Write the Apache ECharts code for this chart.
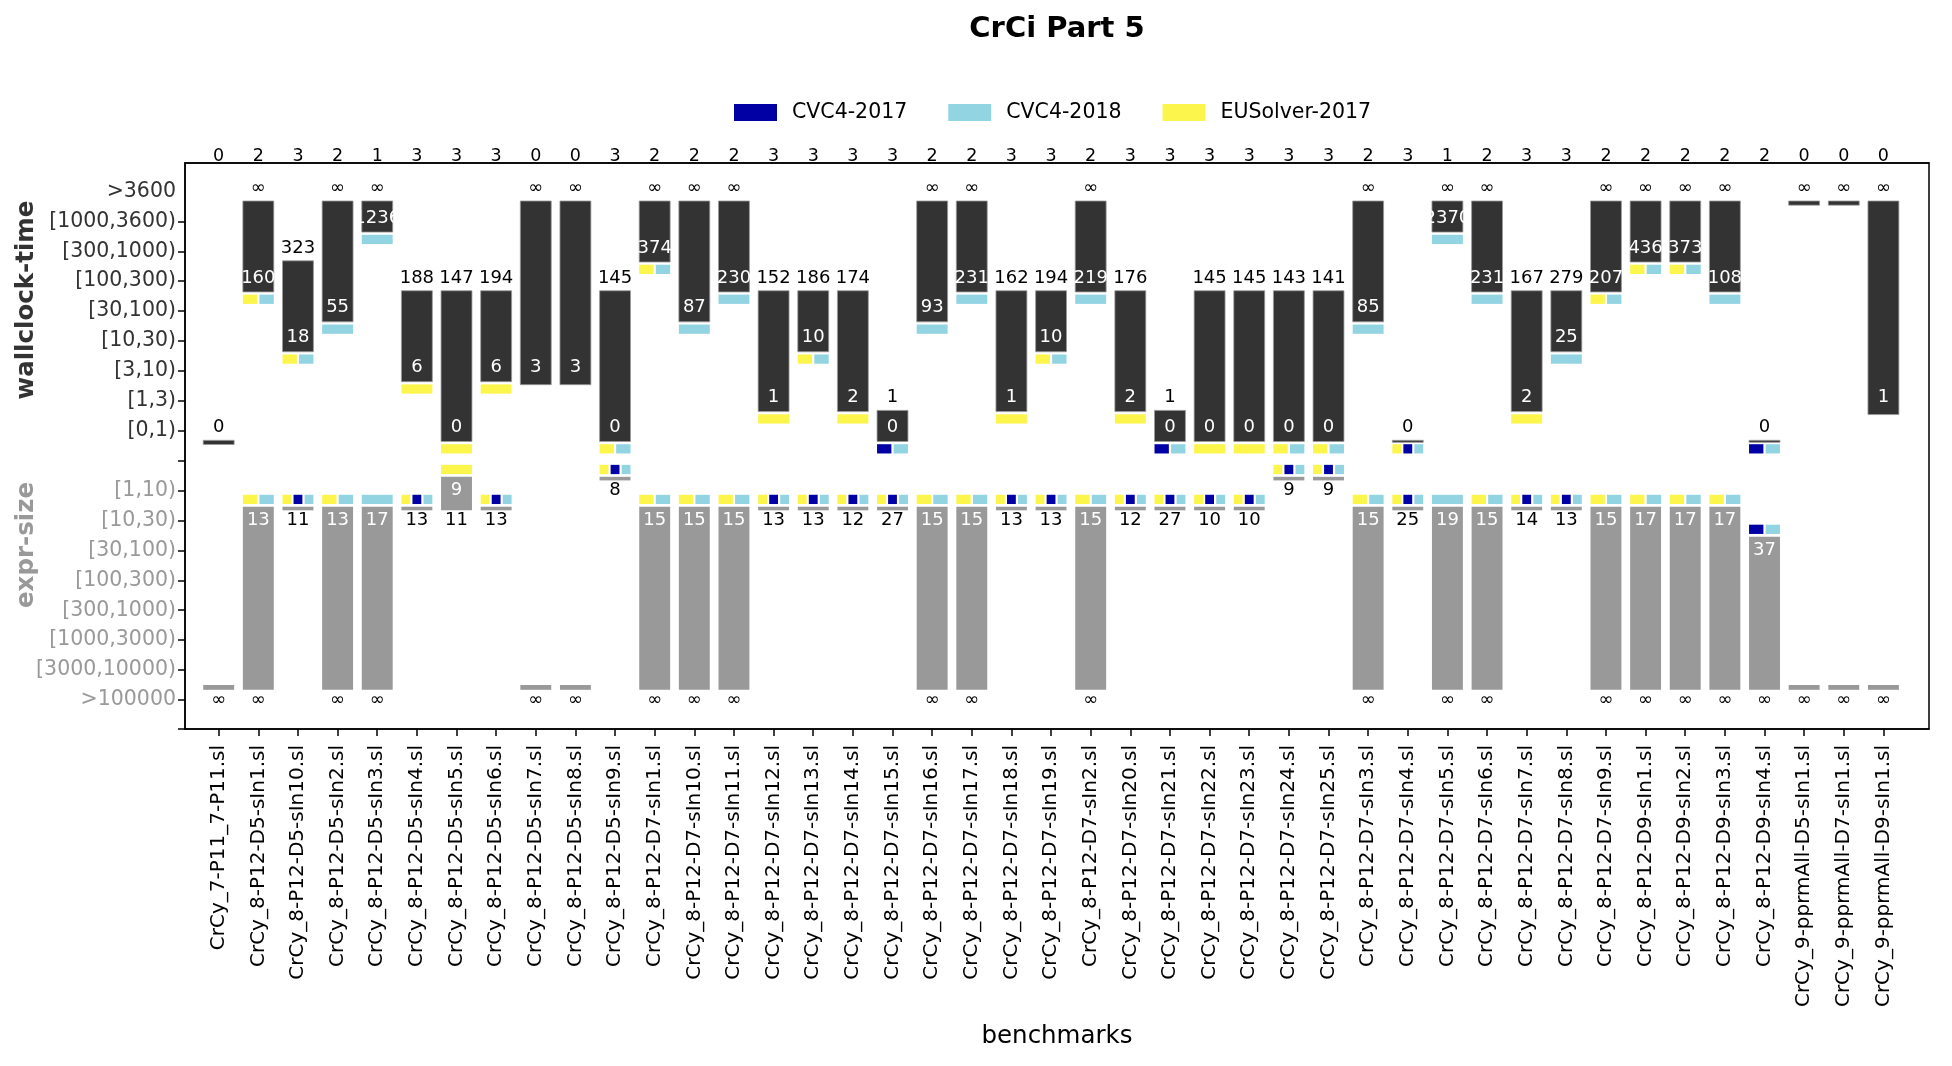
<!DOCTYPE html>
<html><head><meta charset="utf-8">
<script src="https://cdn.jsdelivr.net/npm/echarts@6/dist/echarts.min.js"></script>
<style>html,body{margin:0;padding:0;background:#fff}#c{width:1952px;height:1066px}</style>
</head><body><div id="c"></div>
<script>
const INF = Infinity;
const benchmarks = ['CrCy_7-P11_7-P11.sl','CrCy_8-P12-D5-sIn1.sl','CrCy_8-P12-D5-sIn10.sl','CrCy_8-P12-D5-sIn2.sl','CrCy_8-P12-D5-sIn3.sl','CrCy_8-P12-D5-sIn4.sl','CrCy_8-P12-D5-sIn5.sl','CrCy_8-P12-D5-sIn6.sl','CrCy_8-P12-D5-sIn7.sl','CrCy_8-P12-D5-sIn8.sl','CrCy_8-P12-D5-sIn9.sl','CrCy_8-P12-D7-sIn1.sl','CrCy_8-P12-D7-sIn10.sl','CrCy_8-P12-D7-sIn11.sl','CrCy_8-P12-D7-sIn12.sl','CrCy_8-P12-D7-sIn13.sl','CrCy_8-P12-D7-sIn14.sl','CrCy_8-P12-D7-sIn15.sl','CrCy_8-P12-D7-sIn16.sl','CrCy_8-P12-D7-sIn17.sl','CrCy_8-P12-D7-sIn18.sl','CrCy_8-P12-D7-sIn19.sl','CrCy_8-P12-D7-sIn2.sl','CrCy_8-P12-D7-sIn20.sl','CrCy_8-P12-D7-sIn21.sl','CrCy_8-P12-D7-sIn22.sl','CrCy_8-P12-D7-sIn23.sl','CrCy_8-P12-D7-sIn24.sl','CrCy_8-P12-D7-sIn25.sl','CrCy_8-P12-D7-sIn3.sl','CrCy_8-P12-D7-sIn4.sl','CrCy_8-P12-D7-sIn5.sl','CrCy_8-P12-D7-sIn6.sl','CrCy_8-P12-D7-sIn7.sl','CrCy_8-P12-D7-sIn8.sl','CrCy_8-P12-D7-sIn9.sl','CrCy_8-P12-D9-sIn1.sl','CrCy_8-P12-D9-sIn2.sl','CrCy_8-P12-D9-sIn3.sl','CrCy_8-P12-D9-sIn4.sl','CrCy_9-pprmAll-D5-sIn1.sl','CrCy_9-pprmAll-D7-sIn1.sl','CrCy_9-pprmAll-D9-sIn1.sl'];
const solvedCounts = [0,2,3,2,1,3,3,3,0,0,3,2,2,2,3,3,3,3,2,2,3,3,2,3,3,3,3,3,3,2,3,1,2,3,3,2,2,2,2,2,0,0,0];
const timeMax = [0,INF,323,INF,INF,188,147,194,INF,INF,145,INF,INF,INF,152,186,174,1,INF,INF,162,194,INF,176,1,145,145,143,141,INF,0,INF,INF,167,279,INF,INF,INF,INF,0,INF,INF,INF];
const timeMin = [0,160,18,55,1236,6,0,6,3,3,0,374,87,230,1,10,2,0,93,231,1,10,219,2,0,0,0,0,0,85,0,2370,231,2,25,207,436,373,108,0,INF,INF,1];
// best-time solvers: E = EUSolver-2017, B = CVC4-2017, L = CVC4-2018
const timeBest = ['','EL','EL','L','L','E','E','E','','','EL','EL','L','L','E','EL','E','BL','L','L','E','EL','L','E','BL','E','E','EL','EL','L','EBL','L','L','E','L','EL','EL','EL','L','BL','','',''];
const exprMin = [INF,13,11,13,17,13,9,13,INF,INF,8,15,15,15,13,13,12,27,15,15,13,13,15,12,27,10,10,9,9,15,25,19,15,14,13,15,17,17,17,37,INF,INF,INF];
const exprMax = [INF,INF,11,INF,INF,13,11,13,INF,INF,8,INF,INF,INF,13,13,12,27,INF,INF,13,13,INF,12,27,10,10,9,9,INF,25,INF,INF,14,13,INF,INF,INF,INF,INF,INF,INF,INF];
const exprBest = ['','EL','EBL','EL','L','EBL','E','EBL','','','EBL','EL','EL','EL','EBL','EBL','EBL','EBL','EL','EL','EBL','EBL','EL','EBL','EBL','EBL','EBL','EBL','EBL','EL','EBL','L','EL','EBL','EBL','EL','EL','EL','EL','BL','','',''];
const yTickLabels = ['>100000','[3000,10000)','[1000,3000)','[300,1000)','[100,300)','[30,100)','[10,30)','[1,10)','','[0,1)','[1,3)','[3,10)','[10,30)','[30,100)','[100,300)','[300,1000)','[1000,3600)','>3600'];
const solverNames = ['CVC4-2017','CVC4-2018','EUSolver-2017'];
const solverColors = {B:'#0000a4', L:'#93d4e2', E:'#fcf54c'};

const FONT = 'DejaVu Sans';
function timeLevel(t){ if(t===INF) return 17; if(t>=1000) return 16; if(t>=300) return 15; if(t>=100) return 14; if(t>=30) return 13; if(t>=10) return 12; if(t>=3) return 11; if(t>=1) return 10; return 9; }
function exprLevel(s){ if(s===INF) return 0; if(s>=3000) return 1; if(s>=1000) return 2; if(s>=300) return 3; if(s>=100) return 4; if(s>=30) return 5; if(s>=10) return 6; return 7; }
function fmt(v){ return v===INF ? '∞' : String(v); }
function txt(x,y,s,color){
  return {type:'text', x:x, y:y, silent:true, style:{text:s, fill:color, fontSize:18, fontFamily:FONT, textAlign:'center', textVerticalAlign:'middle', align:'center', verticalAlign:'middle'}};
}
function markers(out, codes, x0, x1, yTop, yBot){
  const n = codes.length; if(!n) return;
  const gap = 2.2, w = (x1-x0-gap*(n-1))/n;
  for(let k=0;k<n;k++){
    out.push({type:'rect', shape:{x:x0+k*(w+gap), y:yTop, width:w, height:yBot-yTop}, style:{fill:solverColors[codes[k]]}});
  }
}
function renderItem(params, api){
  const i = params.dataIndex;
  const ch = [];
  const xl = api.coord([i-0.39, 0])[0], xr = api.coord([i+0.39, 0])[0], cx = api.coord([i,0])[0];
  const Y = v => api.coord([i, v])[1];
  // wallclock-time part
  const tMax = timeLevel(timeMax[i]), tMin = timeLevel(timeMin[i]);
  const tb = timeBest[i];
  const top = Y(tMax-0.32);
  let bot = Y(tMin-(tb.length?0.36:0.46));
  if(bot-top<2) bot = top+2;
  ch.push({type:'rect', shape:{x:xl, y:top, width:xr-xl, height:bot-top}, style:{fill:'#333333', stroke:'#9a9a9a', lineWidth:0.8}});
  ch.push(txt(cx, Y(tMax+0.11), fmt(timeMax[i]), '#000'));
  if(tMax!==tMin) ch.push(txt(cx, Y(tMin+0.11), fmt(timeMin[i]), '#fff'));
  markers(ch, tb, xl, xr, Y(tMin-0.45), Y(tMin-0.76));
  // expr-size part
  const eMin = exprLevel(exprMin[i]), eMax = exprLevel(exprMax[i]);
  const eb = exprBest[i];
  const etop = Y(eMin+(eb.length?0.46:0.5));
  let ebot = Y(eMax+0.34);
  if(ebot-etop<3) ebot = etop+3;
  ch.push({type:'rect', shape:{x:xl, y:etop, width:xr-xl, height:ebot-etop}, style:{fill:'#999999'}});
  if(eMin!==eMax) ch.push(txt(cx, Y(eMin), fmt(exprMin[i]), '#fff'));
  ch.push(txt(cx, Y(eMax), fmt(exprMax[i]), '#000'));
  markers(ch, eb, xl, xr, Y(eMin+0.86), Y(eMin+0.55));
  return {type:'group', children:ch};
}

const idx = benchmarks.map((b,i)=>i);
const chart = echarts.init(document.getElementById('c'), null, {renderer:'canvas'});
chart.setOption({
  animation:false,
  textStyle:{fontFamily:FONT},
  grid:{left:185, right:23, top:163, bottom:337, show:true, borderColor:'#000', borderWidth:1.5, backgroundColor:'transparent'},
  legend:{data:solverNames, left:729, top:97, icon:'rect', itemWidth:43, itemHeight:17, itemGap:41, selectedMode:false,
    textStyle:{fontSize:20.5, fontFamily:FONT, color:'#000', padding:[0,0,0,10]}},
  xAxis:[
    {type:'value', position:'bottom', min:-0.85, max:43.15, splitLine:{show:false},
      axisLine:{show:true, onZero:false, lineStyle:{color:'#000', width:1.5}},
      axisTick:{show:true, customValues:idx, length:7, lineStyle:{color:'#000', width:1.5}},
      axisLabel:{show:true, customValues:idx, rotate:90, margin:16, fontSize:20, fontFamily:FONT, color:'#000', formatter:v=>benchmarks[Math.round(v)]}},
    {type:'value', position:'top', min:-0.85, max:43.15, splitLine:{show:false},
      axisLine:{show:true, onZero:false, lineStyle:{color:'#000', width:1.5}},
      axisTick:{show:false},
      axisLabel:{show:true, customValues:idx, margin:-2, fontSize:17.5, fontFamily:FONT, color:'#000', formatter:v=>String(solvedCounts[Math.round(v)])}}
  ],
  yAxis:[
    {type:'value', position:'left', min:-0.97, max:17.95, splitLine:{show:false},
      axisLine:{show:true, onZero:false, lineStyle:{color:'#000', width:1.5}},
      axisTick:{show:true, customValues:[-0.97,0,1,2,3,4,5,6,7,8,9,10,11,12,13,14,15,16], length:7, lineStyle:{color:'#000', width:1.5}},
      axisLabel:{show:true, customValues:[0,1,2,3,4,5,6,7,8,9,10,11,12,13,14,15,16,17], margin:9, fontSize:20.5, fontFamily:FONT,
        color:(v)=> (Math.round(v)>=9 ? '#333333' : '#999999'),
        formatter:v=>yTickLabels[Math.round(v)]}}
  ],
  graphic:[
    {type:'text', x:1057, y:29, style:{text:'CrCi Part 5', fontSize:29, fontWeight:'bold', fontFamily:FONT, fill:'#000', textAlign:'center', textVerticalAlign:'middle', align:'center', verticalAlign:'middle'}},
    {type:'text', x:27, y:300, rotation:Math.PI/2, style:{text:'wallclock-time', fontSize:24.5, fontWeight:'bold', fontFamily:FONT, fill:'#333333', textAlign:'center', textVerticalAlign:'middle', align:'center', verticalAlign:'middle'}},
    {type:'text', x:27, y:545, rotation:Math.PI/2, style:{text:'expr-size', fontSize:24.5, fontWeight:'bold', fontFamily:FONT, fill:'#999999', textAlign:'center', textVerticalAlign:'middle', align:'center', verticalAlign:'middle'}},
    {type:'text', x:1057, y:1037, style:{text:'benchmarks', fontSize:24.5, fontFamily:FONT, fill:'#000', textAlign:'center', textVerticalAlign:'middle', align:'center', verticalAlign:'middle'}}
  ],
  series:[
    {name:'CVC4-2017', type:'bar', data:[], itemStyle:{color:solverColors.B}},
    {name:'CVC4-2018', type:'bar', data:[], itemStyle:{color:solverColors.L}},
    {name:'EUSolver-2017', type:'bar', data:[], itemStyle:{color:solverColors.E}},
    {type:'custom', name:'bench', renderItem:renderItem, clip:false, xAxisIndex:0, yAxisIndex:0,
      encode:{x:0, y:1}, data:idx.map(i=>[i, 0])}
  ]
});
</script></body></html>
